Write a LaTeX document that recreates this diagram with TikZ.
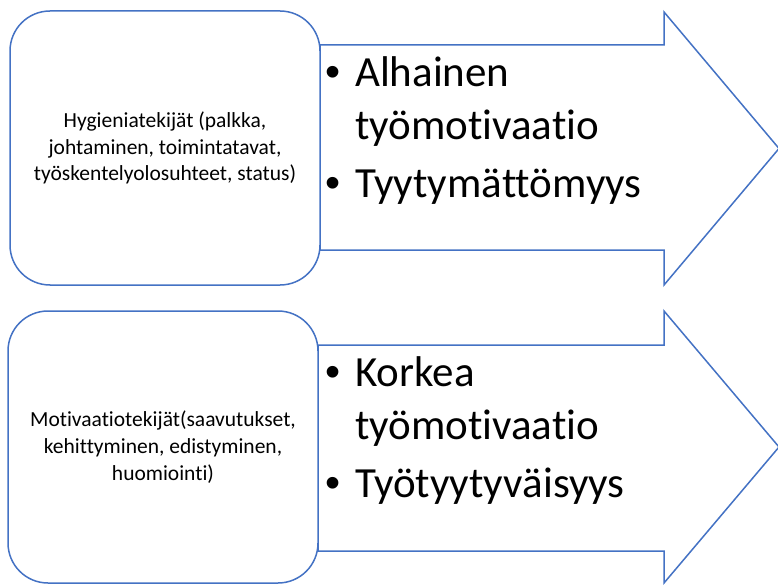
\documentclass[tikz,border=0pt]{standalone}
\usepackage{fontspec}
\setmainfont{Carlito}[Ligatures=NoCommon]
\newfontfamily\pistefont{Liberation Sans}
\definecolor{sininen}{HTML}{4472C4}
\tikzset{
  nuoli/.style={draw=sininen, line width=1.5pt, fill=white, line join=miter},
  laatikko/.style={draw=sininen, line width=1.5pt, fill=white, rounded corners=40pt,
    align=center, font=\fontsize{21.5}{26.7}\selectfont},
  kohta/.style={anchor=base west, inner sep=0pt, font=\fontsize{43}{52}\selectfont}
}
\newcommand{\luetelma}{\makebox[30pt][l]{\pistefont\textbullet}}
\begin{document}
\begin{tikzpicture}[x=1pt,y=-1pt]
  \useasboundingbox (0,0) rectangle (778,585);

  \draw[nuoli] (320,45) -- (664,45) -- (664,12) -- (779,148.5) -- (664,285) -- (664,250) -- (320,250) -- cycle;
  \draw[nuoli] (318,345) -- (664,345) -- (664,311) -- (779,447) -- (664,583) -- (664,551) -- (318,551) -- cycle;

  \node[laatikko, minimum width=310pt, minimum height=274pt] (hyg) at (165,148)
    {Hygieniatekijät (palkka,\\ johtaminen, toimintatavat,\\ työskentelyolosuhteet, status)};
  \node[laatikko, minimum width=310pt, minimum height=272pt] (mot) at (163,447)
    {Motivaatiotekijät(saavutukset,\\ kehittyminen, edistyminen,\\ huomiointi)};

  \node[kohta] (alh) at (325,87) {\luetelma Alhainen};
  \node[kohta] (alhb) at (355,140) {työmotivaatio};
  \node[kohta] (tyyt) at (325,198) {\luetelma Tyytymättömyys};

  \node[kohta] (kork) at (325,386) {\luetelma Korkea};
  \node[kohta] (korkb) at (355,439) {työmotivaatio};
  \node[kohta] (tyot) at (325,497) {\luetelma Työtyytyväisyys};
\end{tikzpicture}
\end{document}
